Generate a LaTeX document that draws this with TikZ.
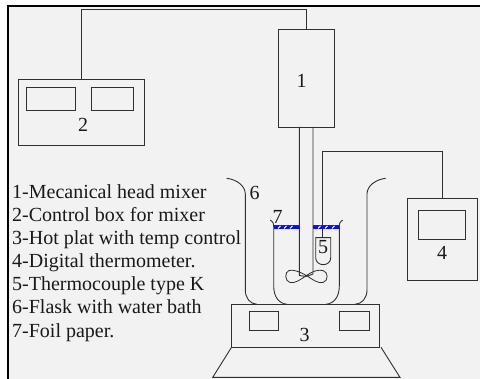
\documentclass[tikz,border=0pt]{standalone}
\usepackage{fontspec}
\setmainfont{Liberation Serif}
\definecolor{bgc}{HTML}{F2F2F2}
\definecolor{linec}{HTML}{303030}
\definecolor{foilc}{HTML}{0A0AF0}
\tikzset{
  ln/.style={draw=linec,line width=0.9pt},
  box/.style={ln,rectangle,inner sep=0pt,outer sep=0pt},
  num/.style={font=\fontsize{20}{22}\selectfont,inner sep=0pt,text=black!90},
  legend/.style={font=\fontsize{20}{22}\selectfont,inner sep=0pt,anchor=base west,text=black!90},
  foil/.style={fill=foilc},
  foiltop/.style={draw=linec,line width=0.7pt},
  foilmark/.style={draw=white,line width=1pt}
}
\begin{document}
\begin{tikzpicture}[x=1pt,y=-1pt]
\useasboundingbox (0,0) rectangle (480,379);
\fill[white] (0,0) rectangle (480,379);
\fill[bgc] (8,6) rectangle (480,379);
\draw[black,line width=2.2pt] (8,379) -- (8,6) -- (480,6);

% boxes
\node[box,minimum width=56pt,minimum height=97.5pt] (b1) at (306.3,78.25) {};
\node[box,minimum width=126.5pt,minimum height=65.5pt] (b2) at (81.25,112.25) {};
\node[box,minimum width=49pt,minimum height=23pt] (b2a) at (51,98.5) {};
\node[box,minimum width=42pt,minimum height=23pt] (b2b) at (112.5,98.5) {};
\node[box,minimum width=70pt,minimum height=81.6pt] (b4) at (442.7,239.5) {};
\node[box,minimum width=47.3pt,minimum height=29pt] (b4a) at (441.7,224.8) {};
\node[box,minimum width=148pt,minimum height=42.7pt] (b3) at (305.7,325.65) {};
\node[box,minimum width=29.3pt,minimum height=19.3pt] (b3a) at (263.65,320.65) {};
\node[box,minimum width=29.6pt,minimum height=19.3pt] (b3b) at (354.5,320.65) {};

% wires
\coordinate (w1) at (306.3,9.5);
\draw[ln] (b2.north) |- (w1) -- (b1.north);
\coordinate (w2) at (322.3,151.7);
\coordinate (tc) at (322.3,237.7);
\draw[ln] (b4.north) |- (w2) -- (tc);

% hot plate stand
\coordinate (fl) at (212.7,377.4);
\coordinate (fr) at (400,377.4);
\draw[ln] (b3.south west) -- (fl) -- (fr) -- (381,347.3);

% outer flask
\draw[ln] (226.7,178.3) .. controls (237,179.5) and (245.3,186) .. (245.3,194)
  -- (245.3,290) .. controls (245.3,298) and (250,304) .. (257,304.3);
\draw[ln] (385.7,178.3) .. controls (375.5,179.5) and (367,186) .. (367,194)
  -- (367,290) .. controls (367,298) and (362,304) .. (355,304.3);

% inner beaker
\draw[ln] (270.3,220) .. controls (272.5,221) and (273.7,223) .. (273.7,226.7)
  -- (273.7,286) .. controls (273.7,297) and (279,303.5) .. (287,304.3);
\draw[ln] (342.7,220) .. controls (340.5,221) and (339.3,223) .. (339.3,226.7)
  -- (339.3,286) .. controls (339.3,297) and (334,303.5) .. (326,304.3);

% shaft
\draw[ln] (299.3,127) -- (299.3,275.5) -- (306.5,276.5);
\draw[ln] (313,127) -- (313,274) -- (306.5,276.5);

% impeller
\draw[ln,line width=0.8pt] (306.5,275.5) .. controls (298,271) and (293,269.5) .. (289,270.5)
  .. controls (284.5,272) and (284.5,281) .. (290,282.5)
  .. controls (295,283.5) and (300,280) .. (306.5,275.5)
  .. controls (313,271) and (318,269.5) .. (323,270.5)
  .. controls (328.5,272) and (328.5,281) .. (323,282.5)
  .. controls (318,283.5) and (313,280) .. (306.5,275.5);

% thermocouple sheath
\draw[ln] (315.7,237.7) -- (330.7,237.7) -- (330.7,258)
  .. controls (330.7,262) and (327,264.7) .. (323.2,264.7)
  .. controls (319.4,264.7) and (315.7,262) .. (315.7,258) -- cycle;

% foil
\path[foil] (273.7,225.2) rectangle (299.3,229);
\path[foil] (313,225.2) rectangle (339.3,229);
\draw[foiltop] (273.7,225.2) -- (299.3,225.2) (313,225.2) -- (339.3,225.2);
\foreach \x in {278,284,290,318,325,332}
  \draw[foilmark] (\x,228.3) -- (\x+2.5,226);

% numbers
\node[num] (n1) at (301.5,80.5) {1};
\node[num] (n2) at (83,125) {2};
\node[num] (n3) at (304.5,335) {3};
\node[num] (n4) at (442,253) {4};
\node[num] (n5) at (323,247) {5};
\node[num] (n6) at (254.5,192.5) {6};
\node[num] (n7) at (277.5,217) {7};

% legend
\node[legend] (l1) at (12,198.3) {1-Mecanical head mixer};
\node[legend] (l2) at (12,221.7) {2-Control box for mixer};
\node[legend] (l3) at (12,245) {3-Hot plat with temp control};
\node[legend] (l4) at (12,267.8) {4-Digital thermometer.};
\node[legend] (l5) at (12,290.8) {5-Thermocouple type K};
\node[legend] (l6) at (12,314) {6-Flask with water bath};
\node[legend] (l7) at (12,337.3) {7-Foil paper.};
\end{tikzpicture}
\end{document}
